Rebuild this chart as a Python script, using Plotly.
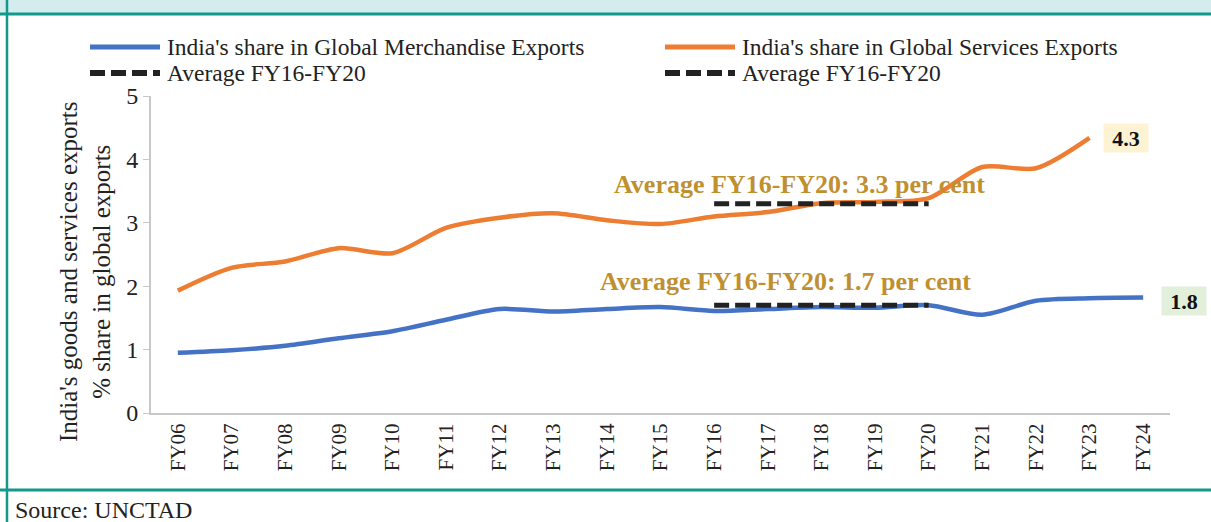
import plotly.graph_objects as go

# Fiscal years on the x axis
years = ["FY06", "FY07", "FY08", "FY09", "FY10", "FY11", "FY12", "FY13", "FY14", "FY15",
         "FY16", "FY17", "FY18", "FY19", "FY20", "FY21", "FY22", "FY23", "FY24"]

# India's share in global merchandise exports (%)
merch = [0.95, 0.99, 1.06, 1.18, 1.29, 1.47, 1.64, 1.60, 1.64, 1.67,
         1.61, 1.64, 1.67, 1.66, 1.70, 1.55, 1.77, 1.81, 1.82]

# India's share in global services exports (%), available up to FY23
services = [1.93, 2.29, 2.39, 2.60, 2.52, 2.92, 3.08, 3.15, 3.04, 2.98,
            3.10, 3.17, 3.31, 3.33, 3.39, 3.88, 3.86, 4.34]

# FY16-FY20 averages
avg_years = ["FY16", "FY17", "FY18", "FY19", "FY20"]
merch_avg = 1.7
services_avg = 3.3

BLUE = "#4472c4"
ORANGE = "#ed7d31"
GOLD = "#bf9030"
TEAL = "#13998b"
FONT = "Liberation Serif"
DASH = "15px,6px"

W, H = 1211, 522
L, R, T, B = 151, 41, 96, 109
PW, PH = W - L - R, H - T - B


def px(x):
    return (x - L) / PW


def py(y):
    return (H - B - y) / PH


fig = go.Figure()

fig.add_trace(go.Scatter(x=years, y=merch, mode="lines", line=dict(color=BLUE, width=4.5, shape="spline", smoothing=0.8),
                         name="India's share in Global Merchandise Exports", hoverinfo="skip"))
fig.add_trace(go.Scatter(x=years[:len(services)], y=services, mode="lines",
                         line=dict(color=ORANGE, width=4.5, shape="spline", smoothing=0.8),
                         name="India's share in Global Services Exports", hoverinfo="skip"))
fig.add_trace(go.Scatter(x=avg_years, y=[merch_avg] * len(avg_years), mode="lines",
                         line=dict(color="#222222", width=5, dash=DASH),
                         name="Average FY16-FY20", hoverinfo="skip"))
fig.add_trace(go.Scatter(x=avg_years, y=[services_avg] * len(avg_years), mode="lines",
                         line=dict(color="#222222", width=5, dash=DASH),
                         name="Average FY16-FY20", hoverinfo="skip"))

shapes = []
# header band and frame
shapes.append(dict(type="rect", xref="paper", yref="paper", x0=px(0), x1=px(W), y0=py(13), y1=py(-5),
                   fillcolor="#d4ecee", line=dict(width=0), layer="below"))
shapes.append(dict(type="line", xref="paper", yref="paper", x0=px(0), x1=px(W), y0=py(14), y1=py(14),
                   line=dict(color=TEAL, width=3)))
shapes.append(dict(type="line", xref="paper", yref="paper", x0=px(0), x1=px(W), y0=py(490), y1=py(490),
                   line=dict(color=TEAL, width=3)))
shapes.append(dict(type="line", xref="paper", yref="paper", x0=px(7), x1=px(7), y0=py(-5), y1=py(H + 5),
                   line=dict(color=TEAL, width=2.5)))

# legend
legend_rows = [
    (90, 47, BLUE, "solid", 5, "India's share in Global Merchandise Exports"),
    (665, 47, ORANGE, "solid", 5, "India's share in Global Services Exports"),
    (90, 73, "#222222", DASH, 6, "Average FY16-FY20"),
    (665, 73, "#222222", DASH, 6, "Average FY16-FY20"),
]
annotations = []
for x0, y0, col, dash, wd, label in legend_rows:
    shapes.append(dict(type="line", xref="paper", yref="paper", x0=px(x0), x1=px(x0 + 70), y0=py(y0), y1=py(y0),
                       line=dict(color=col, width=wd, dash=dash)))
    annotations.append(dict(xref="paper", yref="paper", x=px(x0 + 75), y=py(y0), text=label, showarrow=False,
                            xanchor="left", yanchor="middle", font=dict(family=FONT, size=23.5, color="#222222")))

# average labels
annotations.append(dict(x=11.6, y=3.6, text=f"<b>Average FY16-FY20: {services_avg:.1f} per cent</b>",
                        showarrow=False, xanchor="center", yanchor="middle",
                        font=dict(family=FONT, size=26, color=GOLD)))
annotations.append(dict(x=11.33, y=2.07, text=f"<b>Average FY16-FY20: {merch_avg:.1f} per cent</b>",
                        showarrow=False, xanchor="center", yanchor="middle",
                        font=dict(family=FONT, size=26, color=GOLD)))

# latest value tags
annotations.append(dict(x=17, y=services[-1], xshift=36, text=f"<b>{services[-1]:.1f}</b>", showarrow=False,
                        bgcolor="#fdf3d2", width=44, height=28, borderpad=0,
                        font=dict(family=FONT, size=22, color="#111111")))
annotations.append(dict(x=18, y=merch[-1], yshift=-3, xshift=41, text=f"<b>{merch[-1]:.1f}</b>",
                        showarrow=False, bgcolor="#e2efda", width=44, height=28, borderpad=0,
                        font=dict(family=FONT, size=22, color="#111111")))

# y axis title
annotations.append(dict(xref="paper", yref="paper", x=px(85), y=py(272),
                        text="India's goods and services exports<br>% share in global exports",
                        showarrow=False, textangle=-90, xanchor="center", yanchor="middle",
                        font=dict(family=FONT, size=25, color="#222222")))

# source note
annotations.append(dict(xref="paper", yref="paper", x=px(13), y=py(510), text="Source: UNCTAD",
                        showarrow=False, xanchor="left", yanchor="middle",
                        font=dict(family=FONT, size=24, color="#222222")))

fig.update_layout(
    width=W, height=H,
    margin=dict(l=L, r=R, t=T, b=B),
    paper_bgcolor="white", plot_bgcolor="white",
    showlegend=False,
    shapes=shapes, annotations=annotations,
    font=dict(family=FONT, color="#222222"),
)
fig.update_xaxes(type="category", categoryorder="array", categoryarray=years, range=[-0.5, 18.5],
                 showgrid=False, showline=True, linecolor="#c8c8c8", linewidth=2,
                 tickangle=-90, ticks="", tickfont=dict(family=FONT, size=21, color="#222222"))
fig.update_yaxes(range=[0, 5], dtick=1, showgrid=False, zeroline=False, showline=True, linecolor="#c8c8c8",
                 linewidth=2, ticks="outside", ticklen=6, tickcolor="#c8c8c8",
                 tickfont=dict(family=FONT, size=24, color="#222222"))

fig.write_html("out.html")
